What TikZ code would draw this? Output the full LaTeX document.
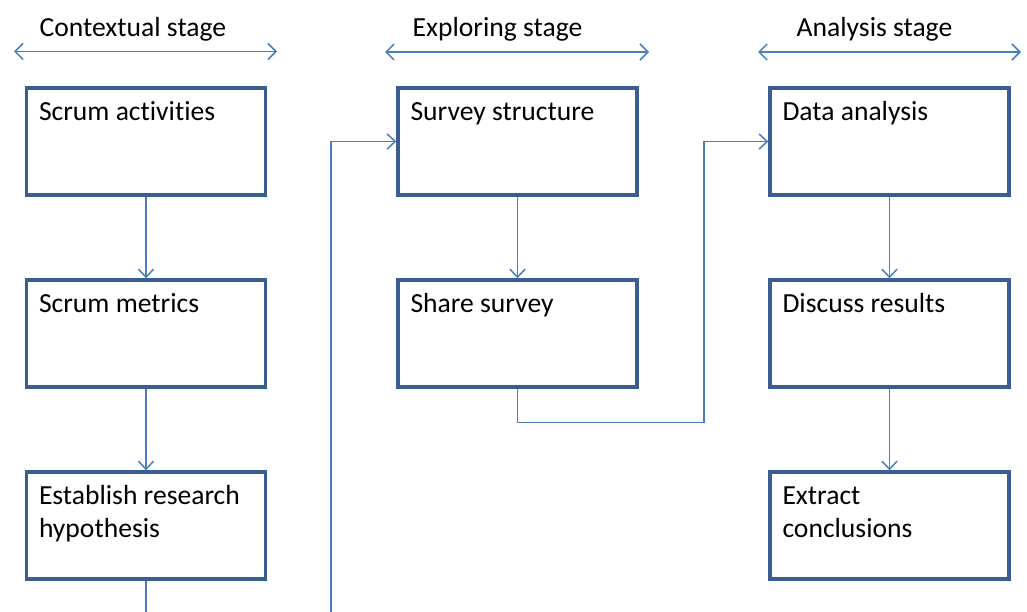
\documentclass[tikz,border=0pt]{standalone}
\usepackage{fontspec}
\setmainfont{Carlito}[Ligatures={NoCommon}]
\usetikzlibrary{arrows.meta}
\definecolor{boxblue}{HTML}{3A5F8E}
\definecolor{linkblue}{HTML}{4A7EBB}
\tikzset{
  stagebox/.style={draw=boxblue, line width=3.4pt, rectangle, inner sep=0pt,
    minimum width=239pt, minimum height=107pt},
  boxlabel/.style={anchor=north west, inner sep=0pt, align=left,
    font=\fontsize{27.6}{33}\selectfont, text=black},
  stagelabel/.style={anchor=base west, inner sep=0pt,
    font=\fontsize{27.6}{33}\selectfont, text=black},
  conn/.style={draw=linkblue, line width=1.5pt},
  tip/.style={-{Straight Barb[length=8pt,width=15pt,line width=1.5pt]}},
  bothtips/.style={{Straight Barb[length=8pt,width=16pt,line width=1.5pt]}-{Straight Barb[length=8pt,width=16pt,line width=1.5pt]}}
}
\begin{document}
\begin{tikzpicture}[x=1pt,y=-1pt]
\useasboundingbox (0,0) rectangle (1027,612);
% stage headers
\coordinate (h1l) at (14,51.5); \coordinate (h1r) at (277,51.5);
\coordinate (h2l) at (385,52); \coordinate (h2r) at (649,52);
\coordinate (h3l) at (758,52); \coordinate (h3r) at (1021,52);
\draw[conn,bothtips] (h1l) -- (h1r);
\draw[conn,bothtips] (h2l) -- (h2r);
\draw[conn,bothtips] (h3l) -- (h3r);
\node[stagelabel] (s1) at (39.5,36.5) {Contextual stage};
\node[stagelabel] (s2) at (412.5,36.5) {Exploring stage};
\node[stagelabel] (s3) at (796.5,36.5) {Analysis stage};
% boxes
\node[stagebox] (b11) at (146,141.5) {};
\node[stagebox] (b12) at (146,333.5) {};
\node[stagebox] (b13) at (146,525.5) {};
\node[stagebox] (b21) at (517.5,141.5) {};
\node[stagebox] (b22) at (517.5,333.5) {};
\node[stagebox] (b31) at (889.5,141.5) {};
\node[stagebox] (b32) at (889.5,333.5) {};
\node[stagebox] (b33) at (889.5,525.5) {};
% box texts
\node[boxlabel] (t11) at ([shift={(14,11)}]b11.north west) {\strut Scrum activities};
\node[boxlabel] (t12) at ([shift={(14,11)}]b12.north west) {\strut Scrum metrics};
\node[boxlabel] (t13) at ([shift={(14,11)}]b13.north west) {\strut Establish research\\hypothesis};
\node[boxlabel] (t21) at ([shift={(14,11)}]b21.north west) {\strut Survey structure};
\node[boxlabel] (t22) at ([shift={(14,11)}]b22.north west) {\strut Share survey};
\node[boxlabel] (t31) at ([shift={(14,11)}]b31.north west) {\strut Data analysis};
\node[boxlabel] (t32) at ([shift={(14,11)}]b32.north west) {\strut Discuss results};
\node[boxlabel] (t33) at ([shift={(14,11)}]b33.north west) {\strut Extract\\conclusions};
% connectors
\draw[conn,tip] (b11.south) -- (b12.north);
\draw[conn,tip] (b12.south) -- (b13.north);
\draw[conn,tip] (b21.south) -- (b22.north);
\draw[conn,tip] (b31.south) -- (b32.north);
\draw[conn,tip] (b32.south) -- (b33.north);
\coordinate (e1) at (146,612);
\coordinate (e2) at (331,612);
\draw[conn] (b13.south) -- (e1);
\draw[conn,tip] (e2) |- (b21.west);
\coordinate (k1) at (704,422.5);
\draw[conn,tip] (b22.south) |- (k1) |- (b31.west);
\end{tikzpicture}
\end{document}
